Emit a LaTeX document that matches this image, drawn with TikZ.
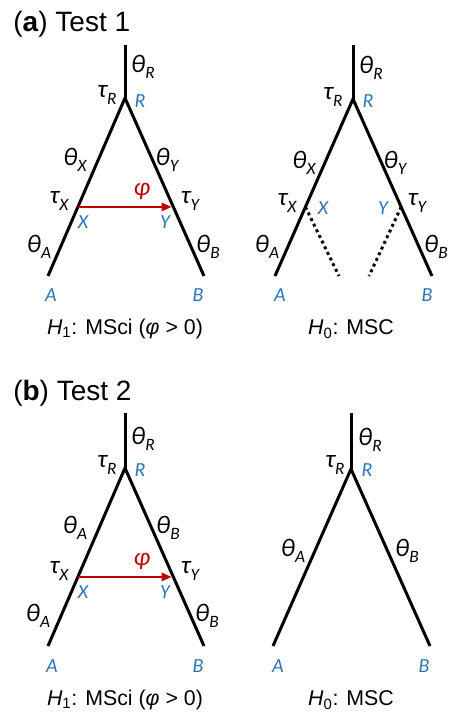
\documentclass[tikz,border=0pt]{standalone}
\usepackage{fontspec}
\setmainfont{Liberation Sans}
\newfontfamily\lblfont{Carlito}
\usepackage{tikz}
\usetikzlibrary{arrows.meta, positioning, calc}
\definecolor{taxblue}{RGB}{46,117,182}
\definecolor{flowred}{RGB}{192,0,0}
\newcommand{\lsub}[1]{\raisebox{-0.26em}{\fontsize{13pt}{14pt}\selectfont #1}}

\begin{document}
\begin{tikzpicture}[
			x=0.75pt, y=-0.75pt,
			branch/.style={line width=2.25pt},
			ghost/.style={line width=2.25pt, dash pattern=on 2.2pt off 2.5pt},
			flow/.style={-{Triangle[length=7.5pt, width=6pt]}, line width=1.9pt, draw=flowred, shorten >=1.2pt},
			param/.style={inner sep=0pt, font=\lblfont\itshape\fontsize{19pt}{20pt}\selectfont},
			taxon/.style={inner sep=0pt, text=taxblue, font=\lblfont\itshape\fontsize{15pt}{16pt}\selectfont},
			hyp/.style={inner sep=0pt, font=\fontsize{16pt}{18pt}\selectfont},
			paneltitle/.style={inner sep=0pt, anchor=west, font=\fontsize{21pt}{24pt}\selectfont}
			]
			
			\useasboundingbox (0,0) rectangle (451,719);
			
			% (a) Test 1, MSci tree
			\begin{scope}
				\coordinate (a1top) at (125,45);
				\coordinate (a1r) at (125,98);
				\coordinate (a1a) at (48,276);
				\coordinate (a1b) at (204,276);
				\coordinate (a1x) at ($(a1r)!0.612!(a1a)$);
				\coordinate (a1y) at ($(a1r)!0.612!(a1b)$);
				
				\draw[branch] (a1top) -- (a1r);
				\draw[branch] (a1a) -- (a1r) -- (a1b);
				\draw[flow] (a1x) -- (a1y);
				
				\node[paneltitle] (atitle) at (13,24) {(\textbf{a}) Test 1};
				\node[param] (a1thr) at (143,67) {θ\lsub{R}};
				\node[param] (a1taur) at (107,95) {τ\lsub{R}};
				\node[taxon] (a1labr) at (140,101) {R};
				\node[param] (a1thx) at (75,160) {θ\lsub{X}};
				\node[param] (a1thy) at (167,160) {θ\lsub{Y}};
				\node[param] (a1taux) at (59,201) {τ\lsub{X}};
				\node[param] (a1tauy) at (190,201) {τ\lsub{Y}};
				\node[param, text=flowred] (a1phi) at (142,191) {φ};
				\node[taxon] (a1labx) at (83,222) {X};
				\node[taxon] (a1laby) at (165,222) {Y};
				\node[param] (a1tha) at (39,247) {θ\lsub{A}};
				\node[param] (a1thb) at (208,247) {θ\lsub{B}};
				\node[taxon] (a1laba) at (51,295) {A};
				\node[taxon] (a1labb) at (198,295) {B};
				\node[hyp] (a1hyp) at (125,329) {\textit{H}\textsubscript{1}: MSci (\textit{φ} > 0)};
			\end{scope}
			
			% (a) Test 1, MSC tree
			\begin{scope}[shift={(228,0)}]
				\coordinate (a2top) at (125,45);
				\coordinate (a2r) at (125,99);
				\coordinate (a2a) at (47,276);
				\coordinate (a2b) at (204,276);
				\coordinate (a2x) at ($(a2r)!0.61!(a2a)$);
				\coordinate (a2y) at ($(a2r)!0.61!(a2b)$);
				\coordinate (a2xe) at (111,276);
				\coordinate (a2ye) at (141,276);
				
				\draw[branch] (a2top) -- (a2r);
				\draw[branch] (a2a) -- (a2r) -- (a2b);
				\draw[ghost] (a2x) -- (a2xe);
				\draw[ghost] (a2y) -- (a2ye);
				
				\node[param] (a2thr) at (143,68) {θ\lsub{R}};
				\node[param] (a2taur) at (105,97) {τ\lsub{R}};
				\node[taxon] (a2labr) at (140,101) {R};
				\node[param] (a2thx) at (76,163) {θ\lsub{X}};
				\node[param] (a2thy) at (167,163) {θ\lsub{Y}};
				\node[param] (a2taux) at (59,203) {τ\lsub{X}};
				\node[param] (a2tauy) at (189,203) {τ\lsub{Y}};
				\node[taxon] (a2labx) at (95,208) {X};
				\node[taxon] (a2laby) at (155,208) {Y};
				\node[param] (a2tha) at (39,247) {θ\lsub{A}};
				\node[param] (a2thb) at (208,247) {θ\lsub{B}};
				\node[taxon] (a2laba) at (52,295) {A};
				\node[taxon] (a2labb) at (199,295) {B};
				\node[hyp] (a2hyp) at (123,329) {\textit{H}\textsubscript{0}: MSC};
			\end{scope}
			
			% (b) Test 2, MSci tree
			\begin{scope}[shift={(0,370)}]
				\coordinate (b1top) at (125,43);
				\coordinate (b1r) at (125,98);
				\coordinate (b1a) at (48,276);
				\coordinate (b1b) at (204,276);
				\coordinate (b1x) at ($(b1r)!0.612!(b1a)$);
				\coordinate (b1y) at ($(b1r)!0.612!(b1b)$);
				
				\draw[branch] (b1top) -- (b1r);
				\draw[branch] (b1a) -- (b1r) -- (b1b);
				\draw[flow] (b1x) -- (b1y);
				
				\node[paneltitle] (btitle) at (13,23) {(\textbf{b}) Test 2};
				\node[param] (b1thr) at (143,69) {θ\lsub{R}};
				\node[param] (b1taur) at (107,95) {τ\lsub{R}};
				\node[taxon] (b1labr) at (140,100) {R};
				\node[param] (b1thx) at (75,158) {θ\lsub{A}};
				\node[param] (b1thy) at (168,158) {θ\lsub{B}};
				\node[param] (b1taux) at (59,201) {τ\lsub{X}};
				\node[param] (b1tauy) at (190,201) {τ\lsub{Y}};
				\node[param, text=flowred] (b1phi) at (142,191) {φ};
				\node[taxon] (b1labx) at (83,222) {X};
				\node[taxon] (b1laby) at (165,222) {Y};
				\node[param] (b1tha) at (38,246) {θ\lsub{A}};
				\node[param] (b1thb) at (207,246) {θ\lsub{B}};
				\node[taxon] (b1laba) at (52,296) {A};
				\node[taxon] (b1labb) at (198,296) {B};
				\node[hyp] (b1hyp) at (125,330) {\textit{H}\textsubscript{1}: MSci (\textit{φ} > 0)};
			\end{scope}
			
			% (b) Test 2, MSC tree
			\begin{scope}[shift={(226,370)}]
				\coordinate (b2top) at (125,43);
				\coordinate (b2r) at (125,99);
				\coordinate (b2a) at (47,276);
				\coordinate (b2b) at (204,276);
				
				\draw[branch] (b2top) -- (b2r);
				\draw[branch] (b2a) -- (b2r) -- (b2b);
				
				\node[param] (b2thr) at (144,70) {θ\lsub{R}};
				\node[param] (b2taur) at (109,95) {τ\lsub{R}};
				\node[taxon] (b2labr) at (141,100) {R};
				\node[param] (b2tha) at (67,181) {θ\lsub{A}};
				\node[param] (b2thb) at (181,181) {θ\lsub{B}};
				\node[taxon] (b2laba) at (52,296) {A};
				\node[taxon] (b2labb) at (198,296) {B};
				\node[hyp] (b2hyp) at (125,330) {\textit{H}\textsubscript{0}: MSC};
			\end{scope}
			
		\end{tikzpicture}
\end{document}
